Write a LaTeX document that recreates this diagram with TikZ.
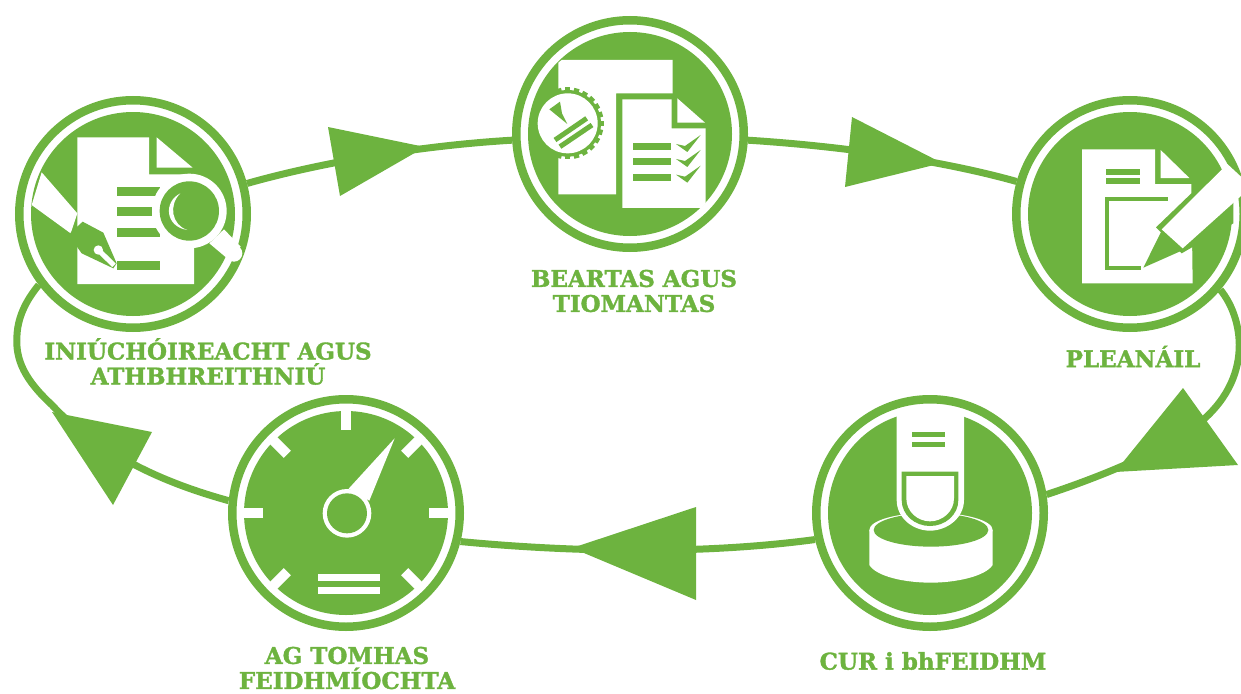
\documentclass[tikz,border=0pt]{standalone}
\usepackage{fontspec}
\setmainfont{DejaVu Serif}[BoldFeatures={FakeBold=1.5}]
\definecolor{brand}{HTML}{6DB33F}
\tikzset{
  ringnode/.style={circle,draw=brand,line width=8.5pt,fill=white,minimum size=227.5pt,inner sep=0pt},
  link/.style={draw=brand,line width=7pt},
  head/.style={fill=brand},
  gfill/.style={fill=brand},
  wfill/.style={fill=white},
  caption/.style={text=brand,font=\fontsize{23}{25}\selectfont\bfseries,align=center,inner sep=0pt},
  icon/.style={scale=0.33333}
}
\begin{document}
\begin{tikzpicture}[x=1pt,y=-1pt]
\useasboundingbox (0,0) rectangle (1241,693);
% nodes
\node[ringnode] (audit) at (133,214) {};
\node[ringnode] (policy) at (630,134) {};
\node[ringnode] (plan) at (1130,214) {};
\node[ringnode] (impl) at (930,513) {};
\node[ringnode] (measure) at (346,513) {};
\foreach \n in {audit,policy,plan,impl,measure} \fill[brand] (\n.center) circle (102);
% connectors
\draw[link] (audit.15.5) .. controls (330,160) and (430,145) .. (policy.183);
\draw[link] (policy.-3) .. controls (840,146) and (940,160) .. (plan.164);
\draw[link] (plan.-40) .. controls (1245,320) and (1255,385) .. (1190,430) .. controls (1160,452) and (1100,477) .. (impl.9);
\draw[link] (impl.193) .. controls (700,555) and (570,552) .. (measure.-14);
\draw[link] (measure.174) .. controls (190,490) and (160,478) .. (135,465) .. controls (105,450) and (75,430) .. (52,405) .. controls (25,380) and (15,360) .. (17,335) .. controls (18,315) and (28,298) .. (audit.217);
% arrowheads
\fill[head] (425,147) -- (328,127) -- (340,196) -- cycle;
\fill[head] (942,163) -- (852,117) -- (845,187) -- cycle;
\fill[head] (1115,472) -- (1183,388) -- (1238,465) -- cycle;
\fill[head] (572,548) -- (696,507) -- (696,600) -- cycle;
\fill[head] (52,412) -- (152,432) -- (113,505) -- cycle;
% audit icon
\begin{scope}[shift={(0,90)},icon]
  \fill[wfill] (232,142) -- (447,142) -- (447,253) -- (582,253) -- (582,582) -- (232,582) -- cycle;
  \fill[wfill] (470,142) -- (578,233) -- (470,233) -- cycle;
  \fill[wfill] (232,370) -- (125,247) -- (95,345) -- (212,430) -- cycle;
  \fill[gfill] (210,430) -- (248,395) -- (310,428) -- (350,520) -- (340,535) -- (245,490) -- (232,472) -- (225,440) -- cycle;
  \fill[wfill] (295,480) circle (14);
  \draw[white,line width=5pt] (295,480) -- (342,526);
  \foreach \y/\x in {292/480,352/455,414/480,513/480} \fill[gfill] (351,\y) rectangle (\x,\y+27);
  \fill[wfill] (568,363) circle (112);
  \fill[wfill] (672,418) -- (722,470) -- (685,508) -- (628,460) -- cycle;
  \fill[wfill] (702,490) circle (25);
  \fill[gfill] (568,363) circle (89);
  \fill[wfill] (541,310) .. controls (490,335) and (495,410) .. (562,420) .. controls (515,405) and (505,345) .. (541,310) -- cycle;
\end{scope}
% policy icon
\begin{scope}[shift={(500,10)},icon]
  \fill[wfill] (175,158) -- (185,150) -- (518,150) -- (518,250) -- (348,250) -- (348,553) -- (175,553) -- cycle;
  \fill[gfill] (203,340) circle (100);
  \foreach \a in {0,15,...,345} \fill[gfill,rotate around={\a:(203,340)}] (297,332) rectangle (311,348);
  \fill[wfill] (203,340) circle (90);
  \fill[gfill] (148,298) -- (180,275) -- (186,310) -- (202,342) -- cycle;
  \draw[brand,line width=5pt] (165,390) -- (260,325);
  \draw[brand,line width=5pt] (180,410) -- (276,345);
  \fill[wfill] (367,268) -- (515,268) -- (515,355) -- (617,355) -- (617,578) -- (605,594) -- (367,594) -- cycle;
  \fill[wfill] (532,265) -- (615,338) -- (532,338) -- cycle;
  \foreach \y in {399,444,491} {
    \fill[gfill] (399,\y) rectangle (513,\y+21);
    \fill[gfill] (528,\y+3) -- (555,\y+9) -- (602,\y-24) -- (562,\y+27) -- cycle;
  }
\end{scope}
% plan icon
\begin{scope}[shift={(1000,90)},icon]
  \fill[wfill] (246,178) -- (465,178) -- (465,282) -- (574,282) -- (578,580) -- (246,580) -- cycle;
  \fill[wfill] (482,180) -- (568,264) -- (482,264) -- cycle;
  \fill[gfill] (318,237) rectangle (420,255);
  \fill[gfill] (318,264) rectangle (420,282);
  \draw[brand,line width=4.3pt] (503,326) -- (322,326) -- (322,535) -- (423,535);
  \fill[gfill] (468,412) -- (574,310) -- (700,310) -- (700,400) -- (545,490) -- cycle;
  \fill[gfill] (487,418) -- (430,533) -- (545,482) -- cycle;
  \fill[wfill] (485,418) -- (548,475) -- (723,318) -- (723,260) -- (682,222) -- cycle;
\end{scope}
% implementation icon
\begin{scope}[shift={(805,390)},icon]
  \fill[wfill] (378,420) ellipse (185 and 52);
  \fill[wfill] (193,420) -- (563,420) -- (563,525) .. controls (540,560) and (450,578) .. (378,578) .. controls (300,578) and (215,560) .. (193,525) -- cycle;
  \fill[gfill] (378,420) ellipse (172 and 50);
  \fill[wfill] (275,60) -- (477,60) -- (477,330) .. controls (477,385) and (425,422) .. (375,422) .. controls (325,422) and (275,385) .. (275,330) -- cycle;
  \fill[gfill] (321,126) rectangle (420,142);
  \fill[gfill] (321,156) rectangle (420,172);
  \fill[gfill] (290,245) -- (460,245) -- (460,330) .. controls (460,375) and (420,408) .. (375,408) .. controls (330,408) and (290,375) .. (290,330) -- cycle;
  \fill[wfill] (304,258) -- (447,258) -- (447,325) .. controls (447,365) and (412,394) .. (375,394) .. controls (338,394) and (304,365) .. (304,325) -- cycle;
\end{scope}
% measure icon
\begin{scope}[shift={(222,390)},icon]
  \foreach \a in {0,45,90,135,180,225,315}
    \draw[white,line width=10pt,rotate around={\a:(372,369)}] (372+249,369) -- (372+315,369);
  \fill[wfill] (518,145) -- (442,332) -- (380,296) -- cycle;
  \fill[wfill] (375,370) circle (73);
  \fill[gfill] (375,370) circle (60);
  \fill[wfill] (288,552) rectangle (474,573);
  \fill[wfill] (288,591) rectangle (474,612);
\end{scope}
% captions
\node[caption] (capaudit) at (208,361.5) {INIÚCHÓIREACHT AGUS\\ATHBHREITHNIÚ};
\node[caption] (cappolicy) at (634,291) {BEARTAS AGUS\\TIOMANTAS};
\node[caption] (capplan) at (1133,356.5) {PLEANÁIL};
\node[caption] (capimpl) at (933,661) {CUR i bhFEIDHM};
\node[caption] (capmeasure) at (347,668) {AG TOMHAS\\FEIDHMÍOCHTA};
\end{tikzpicture}
\end{document}
